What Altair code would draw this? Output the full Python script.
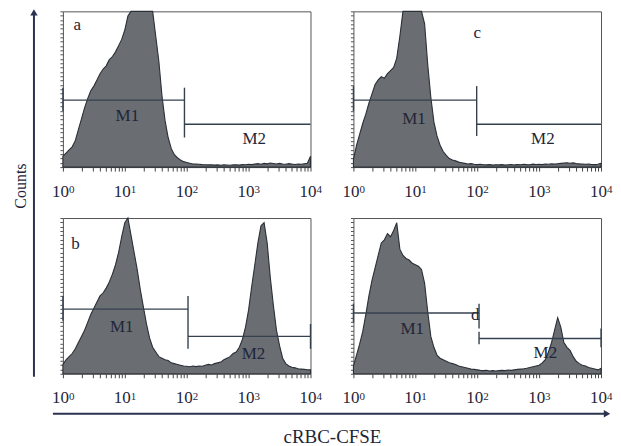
import altair as alt
import pandas as pd
import numpy as np

# ---------------- data ----------------
# histogram bins on log10 scale (0.00 .. 4.00, step 0.05)
LOGX = [round(i * 0.05, 2) for i in range(81)]

COUNTS_A = [7, 9, 11, 13, 17, 24, 31, 38, 44, 49, 52, 56, 60, 63, 65, 69, 71, 74, 78, 82,
            88, 97, 100, 100, 100, 100, 100, 100, 100, 100, 84, 68, 46, 30, 19, 12, 8, 6, 4.5, 3.5,
            3, 2.5, 2, 2, 1.8, 1.6, 1.5, 1.4, 1.5, 1.3, 1.4, 1.2, 1.4, 1.3, 1.2, 1.4, 1.5, 1.3, 1.6, 1.5,
            1.8, 1.6, 1.9, 2.2, 1.8, 2.4, 2.1, 2.6, 2.3, 2.0, 2.4, 2.0, 1.8, 2.2, 1.9, 1.7, 2.0, 1.8, 2.2, 2.5,
            7]
COUNTS_C = [5, 14, 21, 28, 34, 41, 47, 53, 56, 58, 57, 60, 62, 64, 70, 84, 100, 100, 100, 100,
            100, 100, 100, 92, 66, 45, 29, 20, 14, 10, 7.5, 5.5, 4.5, 4, 3.2, 2.8, 2.4, 2.0, 2.2, 1.8,
            1.6, 1.8, 1.5, 1.4, 1.6, 1.3, 1.5, 1.4, 1.6, 1.3, 1.5, 1.7, 1.4, 1.6, 1.5, 1.8, 1.6, 1.5, 1.9, 1.7,
            1.8, 1.6, 2.0, 1.8, 2.1, 1.9, 2.2, 2.4, 2.6, 2.8, 2.5, 2.7, 2.3, 2.1, 2.0, 1.8, 1.9, 1.7, 1.6, 1.8,
            2.5]
COUNTS_B = [6, 9, 11, 13, 16, 20, 24, 28, 33, 38, 42, 46, 50, 52, 55, 59, 64, 70, 78, 88,
            97, 100, 89, 78, 67, 54, 43, 32, 23, 17, 14, 11, 10, 9, 8.5, 7, 6.5, 6, 5.5, 5,
            4.8, 4.5, 5, 4.6, 5, 4.8, 5.5, 6, 5.6, 6.5, 7, 7.5, 9, 10, 11, 13, 14, 17, 22, 30,
            41, 56, 70, 84, 95, 97, 84, 62, 44, 28, 18, 10, 6.5, 5, 4.2, 3.8, 3.2, 3, 2.8, 2.6,
            2.5]
COUNTS_D = [5, 12, 19, 27, 38, 50, 60, 68, 76, 84, 86, 90, 88, 92, 97, 80, 76, 74, 73, 71,
            70, 69, 67, 58, 40, 24, 17, 12, 10, 9, 8, 7, 6.5, 6, 5, 4.5, 4, 3.5, 3, 2.8,
            2.5, 2.2, 2.0, 2.2, 1.8, 2.0, 1.8, 2.0, 2.2, 2.0, 2.4, 2.2, 2.5, 2.8, 3.0, 3.2, 3.5, 4.0, 4.5, 5,
            5.5, 7, 9, 14, 20, 28, 36, 30, 20, 17, 15, 11, 8, 6.5, 5.5, 5, 4, 3.5, 3, 2.5,
            3.5]

# marker (gate) segments: x1, x2, y1, y2
GATES_A = {"x": [1, 1, 92, 92], "x2": [92, 1, 92, 10000], "y": [43, 36, 19, 27.5], "y2": [43, 51, 51, 27.5]}
GATES_C = {"x": [1, 1, 98, 98], "x2": [98, 1, 98, 10000], "y": [43, 36, 20, 27.5], "y2": [43, 52, 52, 27.5]}
GATES_B = {"x": [1, 1, 105, 105, 10000], "x2": [105, 1, 105, 10000, 10000],
           "y": [41.5, 34, 16, 24, 16], "y2": [41.5, 50, 50, 24, 32]}
GATES_D = {"x": [1, 1, 107, 107, 107, 10000], "x2": [107, 1, 107, 107, 10000, 10000],
           "y": [39, 33, 29, 19, 22.6, 17], "y2": [39, 45, 45, 27, 22.6, 29]}

# in-panel labels: text, x, y
LABELS_A = {"text": ["a", "M1", "M2"], "x": [1.7, 11, 1230], "y": [91, 33, 18]}
LABELS_C = {"text": ["c", "M1", "M2"], "x": [100, 9.5, 1150], "y": [86, 31, 18]}
LABELS_B = {"text": ["b", "M1", "M2"], "x": [1.6, 8.9, 1200], "y": [83, 30, 13]}
LABELS_D = {"text": ["d", "M1", "M2"], "x": [93, 8.9, 1260], "y": [38, 29, 13.6]}

X_TICKS = [1, 2, 3, 4, 5, 6, 7, 8, 9,
           10, 20, 30, 40, 50, 60, 70, 80, 90,
           100, 200, 300, 400, 500, 600, 700, 800, 900,
           1000, 2000, 3000, 4000, 5000, 6000, 7000, 8000, 9000, 10000]
DECADES = [1, 10, 100, 1000, 10000]
DECADE_BASE = "10"
DECADE_EXPONENTS = ["0", "1", "2", "3", "4"]
Y_TITLE = "Counts"
X_TITLE = "cRBC-CFSE"

# ---------------- style ----------------
FONT = "Liberation Serif"
FILL = "#6a6d72"
EDGE = "#2a3037"
GATE = "#36414f"
INK = "#1f2638"
AXC = "#2c3350"
PW, PH = 248, 156

label_expr = ("indexof([" + ",".join(str(v) for v in DECADES) + "], datum.value) >= 0 ? '"
              + DECADE_BASE + "' : ''")

XAXIS = alt.Axis(values=X_TICKS, labelExpr=label_expr, title=None, grid=False, domain=False,
                 tickSize=4, tickColor="#444444", tickWidth=1,
                 labelFont=FONT, labelFontSize=17, labelColor=INK, labelPadding=12,
                 labelOffset=-3, labelFlush=False, labelOverlap=False)
YAXIS = alt.Axis(values=[float(v) for v in np.linspace(0, 100, 37)], labels=False, title=None,
                 grid=False, domain=False, tickSize=3, tickColor="#555555")

xs = alt.Scale(type="log", domain=[1, 10000], nice=False)
ys = alt.Scale(domain=[0, 100], nice=False, zero=True)

one = alt.Data(values=[{"k": 0}])
exp_df = pd.DataFrame({"x": DECADES, "text": DECADE_EXPONENTS})


def panel(counts, gates, labels, extra=()):
    df = pd.DataFrame({"x": [10 ** v for v in LOGX], "y": counts})
    X = alt.X("x:Q", scale=xs, axis=XAXIS)
    Y = alt.Y("y:Q", scale=ys, axis=YAXIS)
    area = alt.Chart(df).mark_area(fill=FILL, stroke=EDGE, strokeWidth=1.1, opacity=1).encode(
        x=X, y=Y)
    rules = alt.Chart(pd.DataFrame(gates)).mark_rule(color=GATE, strokeWidth=1.4).encode(
        x=X, x2="x2:Q", y=Y, y2="y2:Q")
    texts = alt.Chart(pd.DataFrame(labels)).mark_text(
        font=FONT, fontSize=17, color=INK, align="center", baseline="middle").encode(
        x=X, y=Y, text="text:N")
    exps = alt.Chart(exp_df).mark_text(
        font=FONT, fontSize=11, color=INK, align="left", baseline="top", dx=6).encode(
        x=X, y=alt.value(PH + 17), text="text:N")
    return alt.layer(area, rules, texts, exps, *extra).properties(width=PW, height=PH)


# axis arrows and titles, drawn from the lower-left panel (offsets in pixels)
arrows = [
    alt.Chart(one).mark_rule(color=AXC, strokeWidth=2).encode(
        x=alt.value(-29), y=alt.value(-205), y2=alt.value(159)),
    alt.Chart(one).mark_point(shape="triangle-up", filled=True, size=55, color=AXC, opacity=1).encode(
        x=alt.value(-29), y=alt.value(-206)),
    alt.Chart(one).mark_text(font=FONT, fontSize=16, color=INK, angle=270,
                             align="center", baseline="middle").encode(
        x=alt.value(-42), y=alt.value(-32), text=alt.value(Y_TITLE)),
    alt.Chart(one).mark_rule(color=AXC, strokeWidth=2).encode(
        x=alt.value(-10), x2=alt.value(545), y=alt.value(196)),
    alt.Chart(one).mark_point(shape="triangle-right", filled=True, size=55, color=AXC, opacity=1).encode(
        x=alt.value(545), y=alt.value(196)),
    alt.Chart(one).mark_text(font=FONT, fontSize=19, color=INK,
                             align="center", baseline="middle").encode(
        x=alt.value(270), y=alt.value(219), text=alt.value(X_TITLE)),
]

pa = panel(COUNTS_A, GATES_A, LABELS_A)
pc = panel(COUNTS_C, GATES_C, LABELS_C)
pb = panel(COUNTS_B, GATES_B, LABELS_B, arrows)
pd_ = panel(COUNTS_D, GATES_D, LABELS_D)

chart = alt.concat(pa, pc, pb, pd_, columns=2, spacing={"row": 51, "column": 43},
                   bounds="flush").properties(
    padding={"left": 4, "top": 0, "right": 0, "bottom": 0}
).configure_view(stroke="#555555", strokeWidth=1)

chart.save("out.html", embed_options={"renderer": "svg", "actions": False})
